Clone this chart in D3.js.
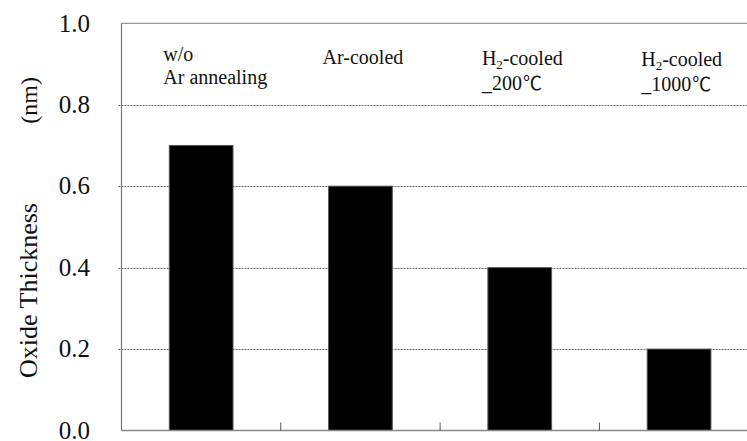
<!DOCTYPE html>
<html>
<head>
<meta charset="utf-8">
<script src="https://cdn.jsdelivr.net/npm/d3@7"></script>
<style>
  body { margin: 0; background: #fff; }
  svg { display: block; }
  text { font-family: "Liberation Serif", "Times New Roman", "DejaVu Serif", serif; fill: #111; }
</style>
</head>
<body>
<svg width="747" height="441"></svg>
<script>
var categories = ["wo", "ar", "h200", "h1000"];
var thickness = [0.7, 0.6, 0.4, 0.2];
var yTicks = [0.0, 0.2, 0.4, 0.6, 0.8, 1.0];
// label lines per category; [text, subscript, rest]
var catLabels = [
	[["w/o"], ["Ar annealing"]],
	[["Ar-cooled"]],
	[["H", "2", "-cooled"], ["_200", "", "℃"]],
	[["H", "2", "-cooled"], ["_1000", "", "℃"]]
];

var svg = d3.select("svg");
var plotLeft = 121.5, plotRight = 758.7, plotTop = 23.3, plotBottom = 430.5;

var x = d3.scaleBand()
	.domain(categories)
	.range([plotLeft, plotRight])
	.paddingInner(0.6)
	.paddingOuter(0.3);

var y = d3.scaleLinear()
	.domain([0, 1])
	.range([plotBottom, plotTop]);

// grid lines
svg.selectAll(".grid")
	.data(yTicks.filter(function(d){ return d > 0 && d < 1; }))
	.enter().append("line")
	.attr("class", "grid")
	.attr("x1", plotLeft - 3)
	.attr("x2", 747)
	.attr("y1", function(d){ return Math.round(y(d)) + 0.5; })
	.attr("y2", function(d){ return Math.round(y(d)) + 0.5; })
	.attr("stroke", "#666")
	.attr("stroke-width", 1)
	.attr("stroke-dasharray", "2,1");

// top frame line
svg.append("line")
	.attr("x1", plotLeft).attr("x2", 747)
	.attr("y1", y(1)).attr("y2", y(1))
	.attr("stroke", "#999").attr("stroke-width", 1.2);

// bars
svg.selectAll(".bar")
	.data(thickness)
	.enter().append("rect")
	.attr("class", "bar")
	.attr("x", function(d, i){ return x(categories[i]); })
	.attr("y", function(d){ return y(d); })
	.attr("width", x.bandwidth())
	.attr("height", function(d){ return y(0) - y(d); })
	.attr("fill", "#000")
	.attr("stroke", "#555")
	.attr("stroke-width", 1);

// left axis line
svg.append("line")
	.attr("x1", plotLeft).attr("x2", plotLeft)
	.attr("y1", y(1)).attr("y2", y(0))
	.attr("stroke", "#777").attr("stroke-width", 1.2);

// bottom axis line
svg.append("line")
	.attr("x1", plotLeft).attr("x2", 747)
	.attr("y1", y(0)).attr("y2", y(0))
	.attr("stroke", "#888").attr("stroke-width", 1.6);

// category boundary ticks
var step = x.step();
svg.selectAll(".ctick")
	.data(categories.slice(0, 3))
	.enter().append("line")
	.attr("class", "ctick")
	.attr("x1", function(d){ return x(d) + x.bandwidth() / 2 + step / 2; })
	.attr("x2", function(d){ return x(d) + x.bandwidth() / 2 + step / 2; })
	.attr("y1", y(0))
	.attr("y2", y(0) - 8)
	.attr("stroke", "#555").attr("stroke-width", 1);

// y tick labels
svg.selectAll(".ylab")
	.data(yTicks)
	.enter().append("text")
	.attr("class", "ylab")
	.attr("x", 90)
	.attr("y", function(d){ return y(d); })
	.attr("dy", "0.33em")
	.attr("text-anchor", "end")
	.style("font-size", "25px")
	.text(function(d){ return d3.format(".1f")(d); });

// y axis title
svg.append("text")
	.attr("transform", "translate(37,378) rotate(-90)")
	.attr("text-anchor", "start")
	.style("font-size", "26px")
	.text("Oxide Thickness");
svg.append("text")
	.attr("transform", "translate(37,77) rotate(-90)")
	.attr("text-anchor", "end")
	.style("font-size", "24px")
	.text("(nm)");

// category labels
var lineY = [[60.5, 83.5], [63.5], [65, 90], [66, 91]];
catLabels.forEach(function(lines, i){
	var lx = x(categories[i]) - 6;
	lines.forEach(function(parts, j){
		var t = svg.append("text")
			.attr("x", lx)
			.attr("y", lineY[i][j])
			.style("font-size", "20px");
		t.append("tspan").text(parts[0]);
		if (parts.length > 1) {
			if (parts[1]) {
				t.append("tspan").attr("dy", 4).style("font-size", "13px").text(parts[1]);
				t.append("tspan").attr("dy", -4).text(parts[2]);
			} else {
				t.append("tspan")
					.style("font-family", "'Noto Sans CJK SC', sans-serif")
					.style("font-size", "19px")
					.attr("dx", 1)
					.text(parts[2]);
			}
		}
	});
});
</script>
</body>
</html>
